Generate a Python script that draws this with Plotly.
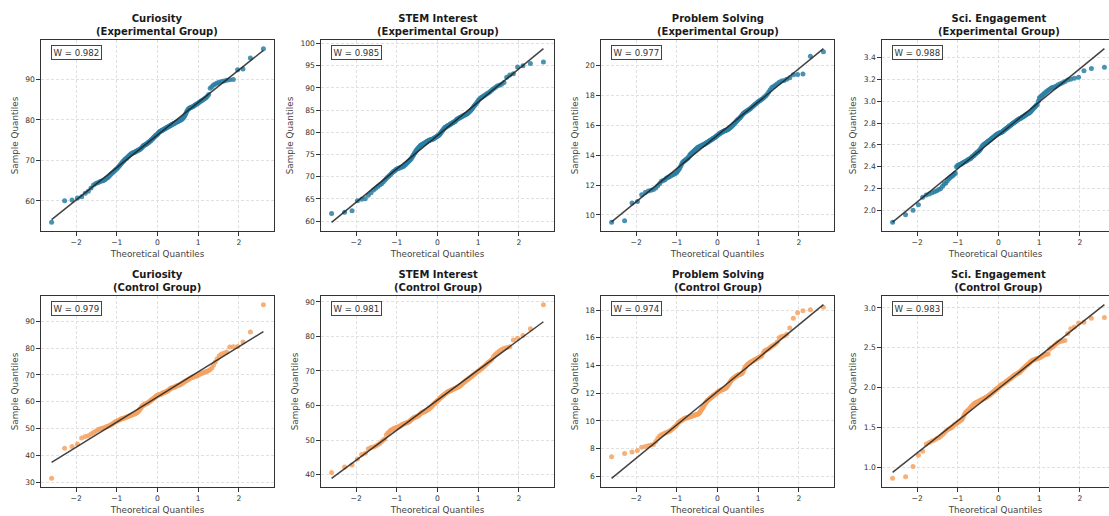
import numpy as np
import plotly.graph_objects as go
from statistics import NormalDist

# ---------------- data (sorted sample values, n = 150 per panel) ----------------
metrics = ["Curiosity", "STEM Interest", "Problem Solving", "Sci. Engagement"]
groups = ["Experimental Group", "Control Group"]

curiosity_exp = [
    54.7, 60.0, 60.2, 60.7, 61.0, 61.9, 62.4, 63.2, 63.9, 64.3,
    64.5, 64.7, 64.9, 65.0, 65.2, 65.5, 65.8, 66.1, 66.5, 66.8,
    67.1, 67.4, 67.7, 67.9, 68.2, 68.5, 68.8, 69.1, 69.4, 69.7,
    69.9, 70.2, 70.4, 70.6, 70.8, 71.0, 71.2, 71.4, 71.6, 71.7,
    71.8, 71.9, 72.0, 72.1, 72.2, 72.3, 72.4, 72.5, 72.6, 72.7,
    72.8, 73.0, 73.2, 73.4, 73.6, 73.7, 73.8, 73.9, 74.0, 74.1,
    74.3, 74.4, 74.5, 74.7, 74.8, 75.0, 75.2, 75.3, 75.5, 75.7,
    75.8, 76.0, 76.2, 76.3, 76.4,
    76.6, 76.8, 77.0, 77.1, 77.2, 77.3, 77.4, 77.5, 77.6, 77.7,
    77.8, 77.9, 78.0, 78.1, 78.2, 78.3, 78.4, 78.5, 78.6, 78.7,
    78.8, 78.9, 79.0, 79.1, 79.2, 79.3, 79.4, 79.5, 79.6, 79.7,
    79.8, 79.9, 80.0, 80.1, 80.3, 80.5, 80.8, 81.1, 81.5, 82.0,
    82.4, 82.7, 82.9, 83.0, 83.1, 83.2, 83.3, 83.5, 83.7, 83.9,
    84.0, 84.2, 84.4, 84.6, 84.8, 85.0, 85.2, 85.5, 85.8, 86.3,
    87.8, 88.2, 88.6, 88.9, 89.1, 89.3, 89.5, 89.6, 89.8, 89.9,
    90.0, 92.4, 92.6, 95.3, 97.6,
]
stem_exp = [
    61.7, 62.0, 62.3, 64.6, 64.9, 65.0, 65.8, 66.4, 67.0, 67.4,
    67.8, 68.1, 68.4, 68.8, 69.2, 69.6, 69.9, 70.2, 70.5, 70.8,
    71.1, 71.3, 71.5, 71.7, 71.8, 71.9, 72.0, 72.1, 72.2, 72.3,
    72.4, 72.6, 72.8, 73.0, 73.2, 73.4, 73.6, 73.8, 74.0, 74.3,
    74.6, 74.9, 75.2, 75.5, 75.8, 76.0, 76.2, 76.4, 76.6, 76.8,
    77.0, 77.1, 77.2, 77.3, 77.4, 77.5, 77.6, 77.7, 77.8, 77.9,
    78.0, 78.1, 78.2, 78.2, 78.3, 78.3, 78.4, 78.4, 78.5, 78.6,
    78.7, 78.8, 78.9, 79.0, 79.1,
    79.2, 79.3, 79.4, 79.6, 79.8, 80.0, 80.2, 80.4, 80.6, 80.8,
    81.0, 81.1, 81.2, 81.3, 81.4, 81.5, 81.6, 81.7, 81.8, 81.9,
    82.0, 82.1, 82.2, 82.3, 82.4, 82.5, 82.7, 82.9, 83.0, 83.1,
    83.2, 83.3, 83.4, 83.5, 83.6, 83.7, 83.8, 83.9, 84.0, 84.1,
    84.2, 84.4, 84.6, 84.8, 85.0, 85.3, 85.6, 85.9, 86.2, 86.5,
    86.8, 87.2, 87.5, 87.7, 87.9, 88.1, 88.3, 88.5, 88.7, 88.9,
    89.2, 89.5, 89.8, 90.1, 90.4, 90.6, 90.8, 91.2, 92.4, 92.9,
    93.2, 94.7, 95.0, 95.5, 95.8,
]
problem_exp = [
    9.5, 9.6, 10.8, 10.9, 11.35, 11.5, 11.6, 11.65, 11.7, 11.8,
    11.95, 12.1, 12.25, 12.3, 12.35, 12.45, 12.5, 12.55, 12.6, 12.65,
    12.7, 12.75, 12.8, 12.85, 12.95, 13.05, 13.15, 13.3, 13.45, 13.55,
    13.6, 13.65, 13.7, 13.75, 13.8, 13.85, 13.95, 14.05, 14.1, 14.15,
    14.2, 14.25, 14.3, 14.35, 14.4, 14.45, 14.5, 14.52, 14.55, 14.58,
    14.6, 14.63, 14.66, 14.68, 14.7, 14.73, 14.76, 14.79, 14.82, 14.85,
    14.88, 14.91, 14.94, 14.97, 15.0, 15.03, 15.06, 15.09, 15.12, 15.15,
    15.18, 15.21, 15.25, 15.28, 15.32,
    15.36, 15.4, 15.43, 15.46, 15.49, 15.52, 15.55, 15.58, 15.6, 15.62,
    15.64, 15.66, 15.68, 15.7, 15.72, 15.75, 15.78, 15.82, 15.86, 15.9,
    15.95, 16.0, 16.05, 16.1, 16.15, 16.2, 16.26, 16.32, 16.38, 16.42,
    16.47, 16.52, 16.58, 16.65, 16.72, 16.78, 16.84, 16.88, 16.92, 16.96,
    17.0, 17.04, 17.08, 17.12, 17.18, 17.24, 17.3, 17.36, 17.42, 17.48,
    17.54, 17.6, 17.65, 17.7, 17.76, 17.82, 17.9, 18.0, 18.1, 18.25,
    18.4, 18.55, 18.62, 18.7, 18.8, 18.9, 18.98, 19.02, 19.1, 19.2,
    19.4, 19.42, 19.45, 20.65, 20.95,
]
engage_exp = [
    1.89, 1.96, 2.00, 2.05, 2.12, 2.14, 2.15, 2.16, 2.17, 2.18,
    2.19, 2.20, 2.22, 2.24, 2.25, 2.27, 2.29, 2.30, 2.31, 2.32,
    2.33, 2.34, 2.40, 2.41, 2.415, 2.42, 2.425, 2.43, 2.435, 2.44,
    2.445, 2.45, 2.455, 2.46, 2.465, 2.47, 2.475, 2.48, 2.49, 2.495,
    2.50, 2.51, 2.515, 2.52, 2.53, 2.535, 2.54, 2.545, 2.555, 2.565,
    2.575, 2.585, 2.595, 2.60, 2.605, 2.61, 2.615, 2.62, 2.625, 2.63,
    2.635, 2.64, 2.645, 2.65, 2.655, 2.66, 2.665, 2.67, 2.675, 2.68,
    2.685, 2.69, 2.695, 2.70, 2.702,
    2.705, 2.708, 2.71, 2.712, 2.715, 2.72, 2.725, 2.73, 2.735, 2.74,
    2.745, 2.75, 2.755, 2.76, 2.765, 2.77, 2.775, 2.78, 2.785, 2.79,
    2.795, 2.80, 2.805, 2.81, 2.815, 2.82, 2.825, 2.83, 2.835, 2.84,
    2.842, 2.845, 2.85, 2.855, 2.86, 2.865, 2.87, 2.875, 2.88, 2.885,
    2.89, 2.895, 2.90, 2.91, 2.92, 2.93, 2.94, 2.95, 2.96, 2.97,
    3.00, 3.03, 3.04, 3.05, 3.06, 3.07, 3.08, 3.09, 3.10, 3.11,
    3.12, 3.125, 3.13, 3.14, 3.15, 3.16, 3.17, 3.18, 3.195, 3.20,
    3.21, 3.22, 3.28, 3.30, 3.31,
]
curiosity_ctl = [
    31.4, 42.6, 43.3, 44.2, 46.4, 47.0, 47.3, 47.9, 48.5, 49.0,
    49.5, 49.8, 50.0, 50.2, 50.4, 50.6, 50.8, 51.0, 51.3, 51.6,
    51.9, 52.2, 52.5, 52.7, 52.9, 53.1, 53.3, 53.5, 53.6, 53.7,
    53.8, 54.0, 54.1, 54.3, 54.4, 54.5, 54.7, 54.8, 54.9, 55.0,
    55.2, 55.3, 55.4, 55.5, 55.7, 55.9, 56.1, 56.3, 56.6, 57.0,
    57.4, 57.8, 58.2, 58.5, 58.7, 58.9, 59.0, 59.1, 59.2, 59.3,
    59.5, 59.7, 59.9, 60.1, 60.3, 60.5, 60.7, 60.9, 61.1, 61.3,
    61.5, 61.7, 61.9, 62.1, 62.3,
    62.4, 62.5, 62.6, 62.7, 62.8, 62.9, 63.0, 63.2, 63.3, 63.4,
    63.5, 63.6, 63.7, 63.9, 64.0, 64.2, 64.4, 64.6, 64.8, 65.0,
    65.1, 65.2, 65.3, 65.4, 65.5, 65.6, 65.8, 65.9, 66.0, 66.1,
    66.2, 66.3, 66.5, 66.7, 66.9, 67.1, 67.3, 67.5, 67.7, 67.9,
    68.1, 68.3, 68.5, 68.7, 68.9, 69.0, 69.2, 69.3, 69.5, 69.6,
    69.8, 70.0, 70.2, 70.4, 70.6, 70.8, 71.0, 71.2, 71.4, 71.6,
    72.0, 72.6, 73.6, 74.8, 76.0, 77.1, 77.8, 78.2, 78.5, 80.4,
    80.5, 80.6, 82.3, 86.0, 96.2,
]
stem_ctl = [
    40.6, 42.2, 42.8, 44.5, 45.8, 46.2, 47.5, 47.8, 48.0, 48.3,
    48.6, 49.0, 49.5, 50.0, 50.3, 51.5, 52.0, 52.4, 52.8, 53.0,
    53.2, 53.4, 53.5, 53.6, 53.7, 53.9, 54.0, 54.2, 54.4, 54.6,
    54.7, 54.8, 54.9, 55.0, 55.1, 55.2, 55.4, 55.6, 55.8, 56.0,
    56.2, 56.4, 56.5, 56.6, 56.7, 56.8, 56.9, 57.0, 57.2, 57.4,
    57.6, 57.8, 57.9, 58.0, 58.1, 58.2, 58.3, 58.4, 58.5, 58.6,
    58.8, 58.9, 59.0, 59.2, 59.4, 59.6, 59.8, 60.0, 60.2, 60.4,
    60.6, 60.8, 61.0, 61.1, 61.3,
    61.5, 61.7, 61.9, 62.1, 62.3, 62.4, 62.6, 62.8, 62.9, 63.1,
    63.3, 63.4, 63.6, 63.8, 63.9, 64.0, 64.1, 64.2, 64.3, 64.4,
    64.5, 64.6, 64.7, 64.8, 64.9, 65.0, 65.1, 65.2, 65.3, 65.4,
    65.5, 65.7, 65.9, 66.1, 66.3, 66.5, 66.7, 66.9, 67.1, 67.3,
    67.5, 67.7, 67.9, 68.1, 68.3, 68.5, 68.8, 69.0, 69.3, 69.5,
    69.8, 70.0, 70.2, 70.5, 70.8, 71.1, 71.4, 71.8, 72.2, 72.6,
    72.9, 73.3, 74.2, 74.8, 75.3, 75.8, 76.2, 76.6, 76.8, 77.0,
    79.0, 79.5, 80.3, 82.2, 89.2,
]
problem_ctl = [
    7.4, 7.65, 7.75, 7.85, 8.1, 8.15, 8.2, 8.25, 8.3, 8.5,
    8.75, 8.9, 9.0, 9.05, 9.1, 9.15, 9.2, 9.25, 9.3, 9.4,
    9.45, 9.55, 9.6, 9.7, 9.8, 9.9, 9.95, 10.0, 10.05, 10.1,
    10.15, 10.18, 10.2, 10.22, 10.24, 10.26, 10.28, 10.3, 10.32, 10.34,
    10.36, 10.38, 10.4, 10.42, 10.44, 10.46, 10.48, 10.5, 10.55, 10.6,
    10.68, 10.76, 10.85, 10.92, 11.0, 11.1, 11.2, 11.28, 11.35, 11.42,
    11.48, 11.52, 11.56, 11.6, 11.64, 11.68, 11.72, 11.76, 11.8, 11.84,
    11.88, 11.92, 11.96, 12.0, 12.04,
    12.08, 12.12, 12.15, 12.18, 12.2, 12.22, 12.24, 12.26, 12.28, 12.3,
    12.33, 12.36, 12.4, 12.45, 12.5, 12.58, 12.66, 12.74, 12.82, 12.9,
    12.96, 13.02, 13.06, 13.1, 13.14, 13.18, 13.22, 13.26, 13.3, 13.32,
    13.34, 13.36, 13.38, 13.4, 13.45, 13.55, 13.7, 13.82, 13.92, 14.0,
    14.06, 14.12, 14.18, 14.22, 14.26, 14.3, 14.34, 14.38, 14.42, 14.46,
    14.5, 14.55, 14.6, 14.65, 14.7, 14.9, 15.05, 15.1, 15.15, 15.2,
    15.3, 15.38, 15.45, 15.55, 15.7, 16.0, 16.08, 16.12, 16.25, 16.7,
    17.4, 17.8, 17.95, 18.02, 18.2,
]
engage_ctl = [
    0.86, 0.88, 1.01, 1.15, 1.20, 1.29, 1.31, 1.33, 1.34, 1.36,
    1.37, 1.39, 1.41, 1.43, 1.45, 1.47, 1.48, 1.49, 1.50, 1.51,
    1.53, 1.54, 1.55, 1.56, 1.57, 1.58, 1.59, 1.60, 1.62, 1.65,
    1.67, 1.69, 1.70, 1.71, 1.72, 1.73, 1.745, 1.76, 1.77, 1.78,
    1.79, 1.80, 1.805, 1.81, 1.815, 1.82, 1.825, 1.83, 1.835, 1.84,
    1.845, 1.85, 1.855, 1.86, 1.865, 1.87, 1.875, 1.88, 1.885, 1.89,
    1.90, 1.905, 1.91, 1.92, 1.925, 1.93, 1.94, 1.945, 1.955, 1.96,
    1.97, 1.975, 1.985, 1.99, 1.995,
    2.005, 2.01, 2.02, 2.03, 2.035, 2.04, 2.045, 2.05, 2.055, 2.06,
    2.07, 2.075, 2.08, 2.09, 2.095, 2.10, 2.11, 2.115, 2.12, 2.13,
    2.14, 2.145, 2.15, 2.16, 2.165, 2.17, 2.175, 2.18, 2.185, 2.19,
    2.20, 2.21, 2.22, 2.23, 2.24, 2.25, 2.26, 2.27, 2.28, 2.29,
    2.30, 2.31, 2.32, 2.33, 2.34, 2.345, 2.35, 2.355, 2.36, 2.365,
    2.37, 2.375, 2.38, 2.39, 2.40, 2.41, 2.42, 2.42, 2.425, 2.48,
    2.50, 2.51, 2.53, 2.55, 2.57, 2.58, 2.585, 2.59, 2.68, 2.74,
    2.76, 2.81, 2.82, 2.87, 2.88,
]

shapiro_w = [[0.982, 0.985, 0.977, 0.988], [0.979, 0.981, 0.974, 0.983]]
samples = [[curiosity_exp, stem_exp, problem_exp, engage_exp],
           [curiosity_ctl, stem_ctl, problem_ctl, engage_ctl]]
x_tick_vals = [-2, -1, 0, 1, 2]
y_dticks = [[10, 5, 2, 0.2], [10, 10, 2, 0.5]]

# ---------------- style ----------------
W_PX, H_PX = 1109, 516
FONT = "DejaVu Sans"
point_colors = ["#2A7FA5", "#F4A261"]
col_left = [41, 321, 601, 882]
col_width = 233
row_top = [40, 296]
row_height = 191


def probplot(values):
    """Normal probability plot positions (Filliben order-statistic medians)."""
    osr = np.sort(np.asarray(values, dtype=float))
    n = len(osr)
    med = np.empty(n)
    med[-1] = 0.5 ** (1.0 / n)
    med[0] = 1.0 - med[-1]
    med[1:-1] = (np.arange(2, n) - 0.3175) / (n + 0.365)
    nd = NormalDist()
    osm = np.array([nd.inv_cdf(p) for p in med])
    slope, intercept = np.polyfit(osm, osr, 1)
    return osm, osr, slope, intercept


fig = go.Figure()
layout = dict(
    width=W_PX, height=H_PX,
    margin=dict(l=0, r=0, t=0, b=0),
    paper_bgcolor="white", plot_bgcolor="white",
    showlegend=False,
    font=dict(family=FONT, size=8, color="#333333"),
)
annotations = []

k = 0
for r in range(2):
    for c in range(4):
        k += 1
        xa = "x" if k == 1 else f"x{k}"
        ya = "y" if k == 1 else f"y{k}"
        osm, osr, slope, intercept = probplot(samples[r][c])
        line_x = np.array([osm.min(), osm.max()])
        line_y = intercept + slope * line_x

        fig.add_trace(go.Scatter(
            x=osm, y=osr, mode="markers", xaxis=xa, yaxis=ya,
            marker=dict(size=5, color=point_colors[r], opacity=0.85,
                        line=dict(width=0)),
            hoverinfo="skip"))
        fig.add_trace(go.Scatter(
            x=line_x, y=line_y, mode="lines", xaxis=xa, yaxis=ya,
            line=dict(color="#222222", width=1.5), opacity=0.85,
            hoverinfo="skip"))

        # autoscale like matplotlib (5% margins)
        x_lo, x_hi = osm.min(), osm.max()
        xpad = 0.05 * (x_hi - x_lo)
        x0, x1 = x_lo - xpad, x_hi + xpad
        left = col_left[c]
        right = left + col_width
        if right > W_PX:  # last column is cut by the figure edge
            x1 = x0 + (x1 - x0) * (W_PX - left) / col_width
            right = W_PX
        y_lo = min(osr.min(), line_y.min())
        y_hi = max(osr.max(), line_y.max())
        ypad = 0.05 * (y_hi - y_lo)

        top = row_top[r]
        bottom = top + row_height
        xdom = [left / W_PX, right / W_PX]
        ydom = [1 - bottom / H_PX, 1 - top / H_PX]

        dt = y_dticks[r][c]
        axis_common = dict(
            showline=True, linecolor="#333333", linewidth=1.2,
            ticks="outside", ticklen=3.5, tickwidth=0.9, tickcolor="#333333",
            showgrid=True, gridcolor="#e0e0e0", gridwidth=0.8, griddash="3px,2px",
            zeroline=False,
            tickfont=dict(family=FONT, size=7.6, color="#333333"),
        )
        layout["xaxis" if k == 1 else f"xaxis{k}"] = dict(
            axis_common, domain=xdom, anchor=ya, range=[x0, x1],
            tickmode="array", tickvals=x_tick_vals, mirror=True,
            title=dict(text="Theoretical Quantiles", standoff=5,
                       font=dict(family=FONT, size=8.8, color="#444444")),
        )
        layout["yaxis" if k == 1 else f"yaxis{k}"] = dict(
            axis_common, domain=ydom, anchor=xa,
            range=[y_lo - ypad, y_hi + ypad],
            tick0=0, dtick=dt, tickformat=".1f" if dt < 1 else "d",
            mirror=(right < W_PX),
            title=dict(text="Sample Quantiles", standoff=5,
                       font=dict(family=FONT, size=8.8, color="#444444")),
        )

        annotations.append(dict(
            text=f"<b>{metrics[c]}<br>({groups[r]})</b>",
            x=(col_left[c] + col_width / 2) / W_PX, xref="paper",
            y=1, yref=f"{ya} domain", xanchor="center", yanchor="bottom",
            yshift=1, showarrow=False,
            font=dict(family=FONT, size=10, color="#1a1a1a")))
        annotations.append(dict(
            text=f"W = {shapiro_w[r][c]:.3f}",
            x=0.042, xref=f"{xa} domain", y=0.975, yref=f"{ya} domain",
            xanchor="left", yanchor="top", showarrow=False,
            bgcolor="white", bordercolor="#444444", borderwidth=1, borderpad=1.5,
            font=dict(family=FONT, size=8.6, color="#333333")))

layout["annotations"] = annotations
fig.update_layout(**layout)
fig.write_html(
    "out.html",
    config={"displayModeBar": False},
    post_script="document.body.style.margin='0';document.body.style.overflow='hidden';",
)
